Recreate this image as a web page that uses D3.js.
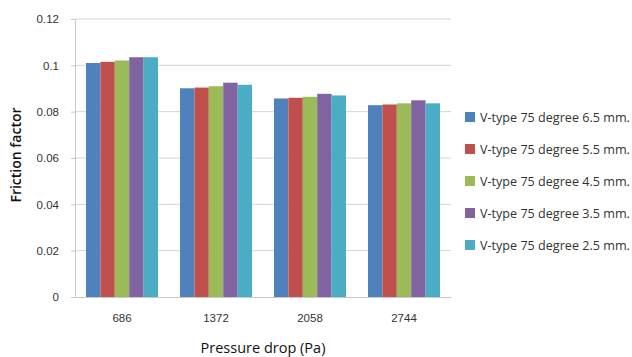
<!DOCTYPE html>
<html>
<head>
<meta charset="utf-8">
<script src="https://cdn.jsdelivr.net/npm/d3@7"></script>
<style>
  html, body { margin: 0; padding: 0; background: #fff; }
  svg { display: block; font-family: "Open Sans", "Noto Sans", sans-serif; }
</style>
</head>
<body>
<svg id="chart" width="632" height="357"></svg>
<script>
// Friction factor by pressure drop for five V-type 75 degree rib heights
const categories = ["686", "1372", "2058", "2744"];
const seriesNames = [
  "V-type 75 degree 6.5 mm.",
  "V-type 75 degree 5.5 mm.",
  "V-type 75 degree 4.5 mm.",
  "V-type 75 degree 3.5 mm.",
  "V-type 75 degree 2.5 mm."
];
const s65 = [0.1010, 0.0901, 0.0857, 0.0828];
const s55 = [0.1015, 0.0904, 0.0860, 0.0831];
const s45 = [0.1021, 0.0910, 0.0864, 0.0836];
const s35 = [0.1035, 0.0925, 0.0877, 0.0849];
const s25 = [0.1035, 0.0916, 0.0870, 0.0836];
const seriesValues = [s65, s55, s45, s35, s25];
const colors = ["#4F81BD", "#C0504D", "#9BBB59", "#8064A2", "#4BACC6"];
const yTicks = [0, 0.02, 0.04, 0.06, 0.08, 0.1, 0.12];

const svg = d3.select("#chart");
const plot = { left: 75, right: 451, top: 19, bottom: 297 };

const x = d3.scaleBand().domain(categories)
  .range([plot.left, plot.right]).paddingInner(0.234).paddingOuter(0.117);
const xs = d3.scaleBand().domain(d3.range(seriesNames.length))
  .range([0, x.bandwidth()]);
const y = d3.scaleLinear().domain([0, 0.12]).range([plot.bottom, plot.top]);

// horizontal gridlines
svg.append("g").selectAll("line").data(yTicks.filter(d => d > 0)).join("line")
  .attr("x1", plot.left).attr("x2", plot.right)
  .attr("y1", d => y(d)).attr("y2", d => y(d))
  .attr("stroke", "#d4d4d4").attr("stroke-width", 1);

// y axis
const yAxis = svg.append("g").attr("transform", `translate(${plot.left},0)`)
  .call(d3.axisLeft(y).tickValues(yTicks).tickSize(4).tickPadding(12)
    .tickFormat(d => d3.format("")(+d.toFixed(2))));
yAxis.select(".domain").attr("stroke", "#c8c8c8");
yAxis.selectAll(".tick line").attr("stroke", "#c8c8c8");
yAxis.selectAll("text").attr("fill", "#333").style("font-size", "11.5px");

// bars
svg.append("g").selectAll("g").data(seriesValues).join("g")
  .attr("fill", (d, i) => colors[i])
  .each(function (vals, si) {
    d3.select(this).selectAll("rect").data(vals).join("rect")
      .attr("x", (v, ci) => x(categories[ci]) + xs(si))
      .attr("width", xs.bandwidth())
      .attr("y", v => y(v))
      .attr("height", v => y(0) - y(v));
  });

// x axis
const xAxis = svg.append("g").attr("transform", `translate(0,${plot.bottom})`)
  .call(d3.axisBottom(x).tickSize(0).tickPadding(17));
xAxis.select(".domain").attr("stroke", "#c8c8c8");
xAxis.selectAll("text").attr("fill", "#333").style("font-size", "11.5px");

// axis titles
svg.append("text")
  .attr("x", (plot.left + plot.right) / 2).attr("y", 353)
  .attr("text-anchor", "middle").attr("fill", "#111")
  .style("font-size", "14.5px")
  .text("Pressure drop (Pa)");
svg.append("text")
  .attr("transform", "translate(21,155) rotate(-90)")
  .attr("text-anchor", "middle").attr("fill", "#111")
  .style("font-size", "14px").style("font-weight", "600")
  .text("Friction factor");

// legend
const legend = svg.append("g").selectAll("g").data(seriesNames).join("g")
  .attr("transform", (d, i) => `translate(465,${117 + i * 32})`);
legend.append("rect").attr("x", 0).attr("y", -5).attr("width", 10).attr("height", 10)
  .attr("fill", (d, i) => colors[i]);
legend.append("text").attr("x", 15).attr("y", 4.5)
  .attr("fill", "#333").style("font-size", "12.6px")
  .text(d => d);
</script>
</body>
</html>
